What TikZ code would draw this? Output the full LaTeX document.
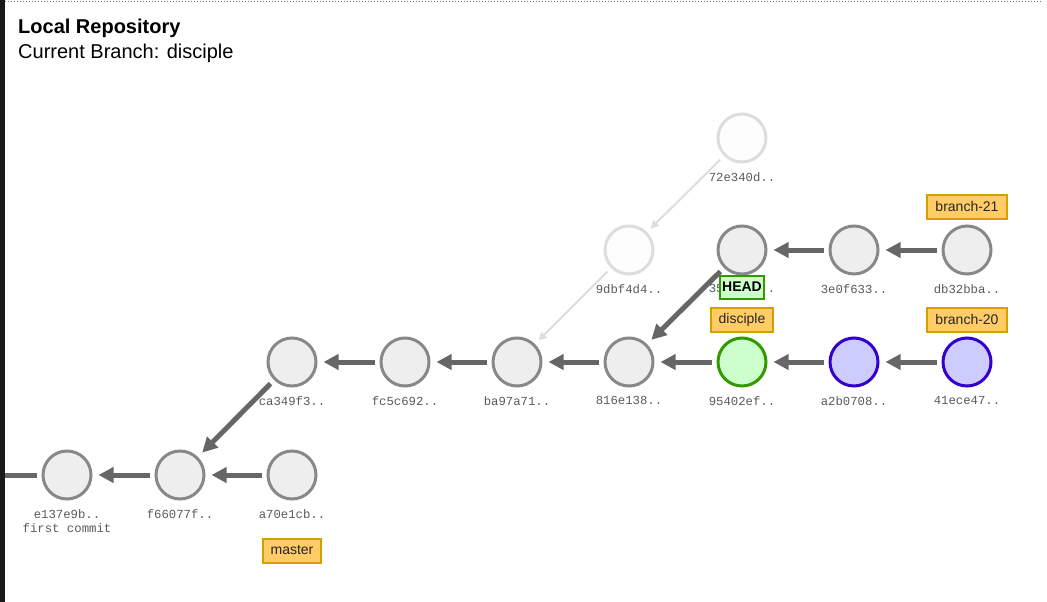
\documentclass[tikz,border=0pt]{standalone}
\usepackage{fontspec}
\setmainfont{Liberation Sans}
\newfontfamily\hashfont{Liberation Mono}
\usetikzlibrary{arrows.meta}
\definecolor{commitfill}{HTML}{EEEEEE}
\definecolor{commitline}{HTML}{888888}
\definecolor{fadefill}{HTML}{FDFDFD}
\definecolor{fadeline}{HTML}{DDDDDD}
\definecolor{headfill}{HTML}{CCFFCC}
\definecolor{headline}{HTML}{339900}
\definecolor{bluefill}{HTML}{CCCCFF}
\definecolor{blueline}{HTML}{3300CC}
\definecolor{tagfill}{HTML}{FFCC66}
\definecolor{tagline}{HTML}{D4A000}
\definecolor{arrowgray}{HTML}{666666}
\definecolor{hashgray}{HTML}{5A5A5A}
\tikzset{
  commit/.style={circle, minimum size=48pt, inner sep=0pt, line width=3pt,
    draw=commitline, fill=commitfill},
  faded/.style={commit, draw=fadeline, fill=fadefill},
  current/.style={commit, draw=headline, fill=headfill},
  branchtip/.style={commit, draw=blueline, fill=bluefill},
  hash/.style={font=\hashfont\fontsize{12.3}{13.5}\selectfont, text=hashgray,
    inner sep=0pt, align=center, anchor=north},
  tag/.style={draw=tagline, fill=tagfill, line width=2pt, minimum height=24pt,
    inner xsep=8pt, inner ysep=0pt, font=\fontsize{14}{16}\selectfont, text=black!85},
  headtag/.style={draw=headline, fill=headfill, line width=2pt, minimum height=23pt,
    inner xsep=2pt, inner ysep=0pt, font=\bfseries\fontsize{14}{16}\selectfont},
  parent/.style={draw=arrowgray, line width=5pt,
    -{Triangle[length=15pt,width=15pt]}, shorten <=5pt, shorten >=6pt},
  fadedparent/.style={draw=fadeline, line width=2pt,
    -{Triangle[length=8pt,width=8pt]}, shorten <=5pt, shorten >=5pt},
}
\begin{document}
\begin{tikzpicture}[x=1pt,y=-1pt]
\useasboundingbox (0,0) rectangle (1047,602);

% frame
\draw[black!55, line width=1pt, dotted] (5,2) -- (1043,2);
\draw[black!90, line width=5pt] (2.5,0) -- (2.5,602);

% heading
\node[anchor=base west, font=\bfseries\fontsize{20}{23}\selectfont, inner sep=0pt] (title) at (18,33.5) {Local Repository};
\node[anchor=base west, font=\fontsize{20}{23}\selectfont, inner sep=0pt] (subtitle) at (18,58.5) {Current Branch: disciple};

% commits
\node[faded] (c72e) at (742,138) {};
\node[faded] (c9db) at (629,250) {};
\node[commit] (c35) at (742,250) {};
\node[commit] (c3e0) at (854,250) {};
\node[commit] (cdb3) at (967,250) {};
\node[commit] (cca3) at (292,362) {};
\node[commit] (cfc5) at (405,362) {};
\node[commit] (cba9) at (517,362) {};
\node[commit] (c816) at (629,362) {};
\node[current] (c954) at (742,362) {};
\node[branchtip] (ca2b) at (854,362) {};
\node[branchtip] (c41e) at (967,362) {};
\node[commit] (ce13) at (67,475) {};
\node[commit] (cf66) at (180,475) {};
\node[commit] (ca70) at (292,475) {};

% commit ids
\node[hash] (h72e) at (742,172.5) {72e340d..};
\node[hash] (h9db) at (629,284.5) {9dbf4d4..};
\node[hash] (h35) at (742,284.5) {35\phantom{xxxxx}..};
\node[hash] (h3e0) at (854,284.5) {3e0f633..};
\node[hash] (hdb3) at (967,284.5) {db32bba..};
\node[hash] (hca3) at (292,396.5) {ca349f3..};
\node[hash] (hfc5) at (405,396.5) {fc5c692..};
\node[hash] (hba9) at (517,396.5) {ba97a71..};
\node[hash] (h816) at (629,396.5) {816e138..};
\node[hash] (h954) at (742,396.5) {95402ef..};
\node[hash] (ha2b) at (854,396.5) {a2b0708..};
\node[hash] (h41e) at (967,396.5) {41ece47..};
\node[hash] (he13) at (67,509.5) {e137e9b..\\first commit};
\node[hash] (hf66) at (180,509.5) {f66077f..};
\node[hash] (ha70) at (292,509.5) {a70e1cb..};

% parent links
\coordinate (offscreen) at (5,475);
\draw[draw=arrowgray, line width=5pt, shorten <=5pt] (ce13) -- (offscreen);
\draw[parent] (cf66) -- (ce13);
\draw[parent] (ca70) -- (cf66);
\draw[parent] (cca3) -- (cf66);
\draw[parent] (cfc5) -- (cca3);
\draw[parent] (cba9) -- (cfc5);
\draw[parent] (c816) -- (cba9);
\draw[parent] (c954) -- (c816);
\draw[parent] (ca2b) -- (c954);
\draw[parent] (c41e) -- (ca2b);
\draw[parent] (c35) -- (c816);
\draw[parent] (c3e0) -- (c35);
\draw[parent] (cdb3) -- (c3e0);
\draw[fadedparent] (c72e) -- (c9db);
\draw[fadedparent] (c9db) -- (cba9);

% branch and HEAD labels
\node[tag] (tb21) at (967,206.5) {branch-21};
\node[tag] (tb20) at (967,319.5) {branch-20};
\node[tag] (tdis) at (742,319.5) {disciple};
\node[tag] (tmas) at (292,550.5) {master};
\node[headtag] (head) at (742,287) {HEAD};
\end{tikzpicture}
\end{document}
